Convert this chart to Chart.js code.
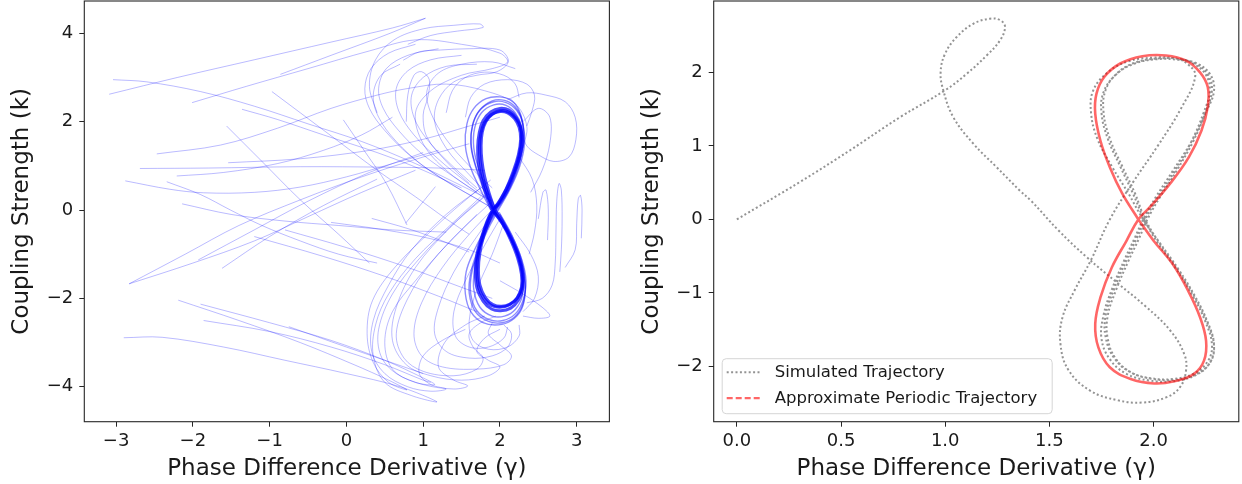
<!DOCTYPE html>
<html>
<head>
<meta charset="utf-8">
<script src="https://cdn.jsdelivr.net/npm/chart.js@4.4.1/dist/chart.umd.min.js"></script>
<style>
  body { margin: 0; background: #fff; }
  .panel { position: absolute; top: 0; width: 621px; height: 484px; }
  #left { left: 0; }
  #right { left: 621px; }
</style>
</head>
<body>
<div class="panel" id="left"><canvas id="chartL" width="621" height="484"></canvas></div>
<div class="panel" id="right"><canvas id="chartR" width="621" height="484"></canvas></div>
<script>
// ---- left panel: tick labels ----
const leftXTicks = [-3, -2, -1, 0, 1, 2, 3];
const leftYTicks = [-4, -2, 0, 2, 4];

// ---- left panel: transients that start far to the left (gamma, k) ----
const farLeftLines = [
  [[-3.09,2.62],[-2.2,3.0],[-1.2,3.4],[-0.2,3.8],[0.6,4.12],[1.03,4.34]],
  [[1.03,4.34],[0.57,4.0],[-0.2,3.5],[-0.86,3.07]],
  [[-3.04,2.95],[-2.6,2.9],[-1.9,2.68],[-1.2,2.35],[-0.5,1.95],[0.2,1.55],[0.9,1.05],[1.5,0.55],[1.9,0.2]],
  [[-2.01,2.43],[-1.3,2.8],[-0.5,3.2],[0.3,3.6],[0.9,3.85],[1.5,3.75],[2.0,3.55],[2.1,3.35],[1.9,3.2],[1.5,3.05],[1.1,2.7],[0.9,2.2],[1.0,1.5],[1.3,0.9],[1.7,0.4]],
  [[-1.36,2.28],[-0.9,2.05],[-0.3,1.7],[0.4,1.3],[1.0,0.9],[1.5,0.5]],
  [[-0.97,2.68],[-0.6,2.2],[-0.1,1.55],[0.4,0.9],[0.9,0.3],[1.3,-0.2],[1.6,-0.55]],
  [[-2.47,1.27],[-1.64,1.47],[-0.9,1.85],[-0.2,2.3],[0.4,2.6],[0.8,2.75],[1.3,2.85],[1.8,2.7],[2.2,2.4],[2.35,1.9],[2.3,1.4]],
  [[-1.56,1.90],[-1.1,1.1],[-0.6,0.23],[-0.1,-0.55],[0.3,-1.2]],
  [[-2.69,0.94],[-1.8,0.95],[-0.6,0.98],[0.5,0.97],[1.2,0.95],[1.8,0.9]],
  [[-1.54,1.07],[-0.6,1.16],[0.3,1.35],[1.0,1.6],[1.6,1.9],[2.0,2.1]],
  [[-2.21,0.77],[-1.6,0.85],[-0.9,1.05],[-0.3,1.35],[0.2,1.7],[0.6,2.1]],
  [[-2.88,0.66],[-2.3,0.47],[-1.86,0.39],[-1.2,0.4],[-0.6,0.52],[0.0,0.75],[0.6,1.05],[1.2,1.35]],
  [[-2.34,0.64],[-1.9,0.35],[-1.51,0.0],[-1.1,-0.35],[-0.6,-0.7],[-0.1,-1.0],[0.4,-1.2]],
  [[-2.83,-1.67],[-2.1,-1.0],[-1.4,-0.35],[-0.6,0.23],[0.2,0.75],[1.0,1.2],[1.6,1.5]],
  [[-2.83,-1.67],[-2.0,-1.2],[-1.2,-0.7],[-0.5,-0.15],[0.2,0.4],[0.9,0.9]],
  [[-1.93,-1.13],[-1.2,-0.45],[-0.5,0.2],[0.3,0.85],[1.0,1.3]],
  [[-1.62,-1.32],[-1.0,-0.6],[-0.3,0.1],[0.4,0.7]],
  [[-2.14,0.14],[-1.5,-0.1],[-0.8,-0.25],[-0.1,-0.35],[0.6,-0.45],[1.3,-0.5]],
  [[-0.04,2.04],[0.25,1.3],[0.52,0.6],[0.79,-0.34]]
];

// ---- left panel: transients from the lower left, turning at the bottom ----
const lowerLines = [
  [[-2.19,-2.04],[-1.4,-2.5],[-0.6,-3.0],[0.1,-3.5],[0.55,-3.85],[0.79,-4.07],[0.55,-3.9],[0.35,-3.45],[0.27,-2.8],[0.34,-2.05],[0.64,-1.28],[1.16,-0.38],[1.5,0.15],[1.88,0.68]],
  [[-1.90,-2.13],[-1.0,-2.55],[-0.2,-2.95],[0.5,-3.4],[1.0,-3.8],[1.15,-3.95],[0.9,-3.9],[0.6,-3.6],[0.5,-3.0],[0.6,-2.3],[0.9,-1.6],[1.3,-0.8],[1.7,-0.1]],
  [[-1.86,-2.50],[-1.0,-2.75],[-0.2,-3.1],[0.5,-3.5],[1.0,-3.85],[1.1,-3.9]],
  [[-2.90,-2.89],[-2.4,-2.88],[-1.6,-3.1],[-0.8,-3.4],[0.0,-3.7],[0.7,-4.0],[1.18,-4.34],[0.85,-4.2],[0.5,-3.9],[0.35,-3.3],[0.38,-2.6],[0.55,-1.9],[0.9,-1.1],[1.35,-0.35],[1.75,0.3]],
  [[-0.75,-2.64],[0.0,-3.1],[0.5,-3.4],[1.0,-3.7]]
];

// ---- left panel: loops that swing below the attractor ----
const bottomLoops = [
  [[1.85,0.4],[1.4,-0.3],[0.95,-1.1],[0.6,-1.9],[0.42,-2.7],[0.45,-3.3],[0.65,-3.7],[1.0,-3.95],[1.4,-4.05],[1.58,-3.98],[1.4,-3.85],[1.2,-3.55],[1.28,-3.0],[1.55,-2.6],[1.8,-2.4]],
  [[1.9,0.2],[1.5,-0.45],[1.1,-1.2],[0.8,-2.0],[0.65,-2.8],[0.75,-3.35],[1.0,-3.65],[1.4,-3.75],[1.7,-3.6],[1.78,-3.35],[1.65,-3.1],[1.6,-2.8],[1.75,-2.55],[1.95,-2.4]],
  [[1.95,0.1],[1.6,-0.55],[1.25,-1.3],[0.98,-2.1],[0.88,-2.8],[0.98,-3.3],[1.25,-3.55],[1.7,-3.6],[2.05,-3.5],[2.15,-3.3],[2.0,-3.05],[1.85,-2.8],[1.9,-2.55]],
  [[1.95,0.0],[1.7,-0.6],[1.4,-1.4],[1.2,-2.2],[1.15,-2.8],[1.3,-3.2],[1.6,-3.35],[1.9,-3.3],[2.1,-3.1],[2.15,-2.8],[2.05,-2.6]],
  [[1.75,0.5],[1.3,-0.1],[0.85,-0.9],[0.55,-1.7],[0.35,-2.5],[0.33,-3.2],[0.5,-3.7],[0.8,-4.0],[1.1,-4.1],[1.3,-4.05],[1.1,-3.95],[0.95,-3.7],[1.0,-3.3],[1.25,-2.95],[1.55,-2.7]],
  [[2.0,-0.2],[1.8,-0.8],[1.55,-1.6],[1.4,-2.3],[1.42,-2.85],[1.6,-3.1],[1.85,-3.1],[2.05,-2.9],[2.1,-2.65]],
  [[1.8,0.3],[1.35,-0.4],[0.9,-1.3],[0.65,-2.2],[0.6,-2.95],[0.78,-3.5],[1.1,-3.75],[1.5,-3.85],[1.85,-3.75],[2.0,-3.55],[1.85,-3.4],[1.7,-3.2],[1.8,-2.9],[2.0,-2.7]],
  [[2.05,-0.3],[1.9,-1.0],[1.7,-1.8],[1.6,-2.5],[1.65,-2.95],[1.85,-3.15],[2.1,-3.1],[2.25,-2.85],[2.25,-2.6]]
];

// ---- left panel: arcs above and left of the attractor ----
const upperArcs = [
  [[0.9,3.75],[0.55,3.55],[0.32,3.2],[0.24,2.75],[0.3,2.3],[0.5,1.8],[0.85,1.2],[1.3,0.65],[1.7,0.25],[1.93,0.0]],
  [[1.2,3.65],[0.8,3.5],[0.52,3.2],[0.42,2.75],[0.48,2.3],[0.68,1.8],[1.0,1.25],[1.4,0.75],[1.78,0.3]],
  [[1.5,3.5],[1.1,3.4],[0.8,3.15],[0.65,2.75],[0.68,2.25],[0.88,1.7],[1.2,1.15],[1.55,0.65],[1.85,0.25]],
  [[0.78,2.0],[0.8,2.6],[0.88,3.05],[0.98,3.13],[1.08,2.95],[1.06,2.55],[1.0,2.15],[1.05,1.65],[1.3,1.1],[1.6,0.6]],
  [[0.74,3.39],[0.95,3.58],[1.22,3.62],[1.6,3.65],[2.0,3.62],[2.11,3.36],[1.96,3.13],[1.7,3.05],[1.4,2.9],[1.2,2.5],[1.15,2.0],[1.3,1.4],[1.6,0.8],[1.85,0.35]],
  [[0.4,2.2],[0.3,2.8],[0.38,3.4],[0.62,3.85],[1.0,4.1],[1.4,4.18],[1.74,4.21],[1.78,4.13],[1.45,4.05],[1.1,3.95],[0.8,3.75]],
  [[1.55,2.1],[1.62,2.55],[1.8,2.85],[2.1,2.95],[2.35,2.85],[2.45,2.6],[2.42,2.25],[2.35,1.9]],
  [[1.3,2.2],[1.38,2.7],[1.55,3.0],[1.8,3.12],[2.05,3.05],[2.2,2.85],[2.25,2.55]],
  [[0.7,3.3],[0.45,3.05],[0.35,2.6],[0.42,2.1],[0.65,1.55],[1.0,1.0],[1.45,0.5],[1.85,0.1]],
  [[1.7,3.3],[1.3,3.25],[1.0,3.0],[0.85,2.6],[0.88,2.1],[1.05,1.6],[1.35,1.05],[1.7,0.5]],
  [[2.2,3.2],[1.9,3.35],[1.5,3.3],[1.2,3.1],[1.05,2.7],[1.1,2.2],[1.3,1.6],[1.6,1.0],[1.9,0.5]]
];

// ---- left panel: loops to the right of the attractor and short middle strokes ----
const rightLoops = [
  [[2.1,2.5],[2.35,2.65],[2.6,2.6],[2.85,2.45],[2.98,2.1],[2.99,1.6],[2.9,1.2],[2.7,1.1],[2.5,1.25],[2.35,1.45],[2.3,1.7]],
  [[2.35,-2.1],[2.55,-2.0],[2.68,-1.7],[2.72,-1.2],[2.73,-0.5],[2.74,0.2],[2.77,0.6],[2.8,0.45],[2.81,-0.2],[2.8,-0.9],[2.78,-1.4]],
  [[2.85,-1.3],[2.98,-0.9],[3.0,-0.3],[3.02,0.25],[3.05,0.33],[3.07,0.0],[3.06,-0.64]],
  [[2.5,-0.2],[2.56,0.4],[2.6,0.45],[2.63,0.0],[2.62,-0.68]],
  [[2.0,-1.6],[2.3,-1.9],[2.55,-2.2],[2.65,-2.4],[2.5,-2.45],[2.3,-2.4]],
  [[2.2,-0.5],[2.4,-1.0],[2.5,-1.5],[2.45,-2.0],[2.3,-2.3]],
  [[2.25,1.2],[2.42,0.7],[2.48,0.1],[2.45,-0.5],[2.38,-1.0]],
  [[2.3,2.0],[2.5,2.3],[2.65,2.1],[2.65,1.5],[2.55,0.9],[2.4,0.4]],
  [[-0.8,-0.45],[0.0,-0.85],[0.8,-1.3],[1.5,-1.75],[1.9,-2.0]],
  [[-1.2,-0.6],[-0.3,-1.05],[0.5,-1.5],[1.2,-1.95],[1.7,-2.3]],
  [[-0.2,-0.28],[0.5,-0.45],[1.1,-0.65],[1.6,-0.9],[2.0,-1.2]],
  [[0.33,-0.19],[0.8,-0.42],[1.22,-0.68],[1.6,-0.95]],
  [[0.77,-0.3],[1.16,0.53]]
];

// ---- left panel: band of loops around the figure eight ----
const bandLoops = [
  [[1.88,0.0],[1.75,0.45],[1.62,0.95],[1.55,1.45],[1.57,1.95],[1.66,2.3],[1.82,2.52],[2.0,2.56],[2.15,2.48],[2.25,2.25],[2.3,1.9],[2.3,1.45],[2.22,0.95],[2.1,0.45],[1.96,0.05],[1.82,-0.4],[1.67,-0.9],[1.56,-1.4],[1.55,-1.9],[1.62,-2.3],[1.78,-2.55],[1.98,-2.6],[2.15,-2.5],[2.28,-2.25],[2.33,-1.85],[2.3,-1.35],[2.2,-0.85],[2.05,-0.35],[1.9,0.05]],
  [[1.9,0.05],[1.78,0.5],[1.68,1.0],[1.62,1.5],[1.65,1.95],[1.75,2.28],[1.92,2.45],[2.08,2.43],[2.22,2.25],[2.3,1.95],[2.32,1.5],[2.26,1.0],[2.14,0.5],[1.98,0.0],[1.84,-0.45],[1.72,-0.95],[1.63,-1.45],[1.62,-1.9],[1.7,-2.28],[1.86,-2.48],[2.04,-2.5],[2.2,-2.35],[2.3,-2.05],[2.34,-1.6],[2.28,-1.1],[2.16,-0.6],[2.0,-0.1]],
  [[1.95,0.0],[1.85,0.4],[1.73,0.9],[1.66,1.4],[1.67,1.85],[1.76,2.2],[1.92,2.38],[2.08,2.37],[2.2,2.2],[2.28,1.9],[2.3,1.5],[2.24,1.05],[2.12,0.55],[1.98,0.1],[1.85,-0.35],[1.74,-0.85],[1.67,-1.35],[1.66,-1.8],[1.74,-2.2],[1.9,-2.4],[2.06,-2.4],[2.2,-2.25],[2.29,-1.95],[2.3,-1.5],[2.24,-1.0],[2.12,-0.5],[1.97,-0.05]],
  [[1.92,0.0],[1.82,0.42],[1.7,0.92],[1.63,1.42],[1.64,1.9],[1.73,2.25],[1.9,2.47],[2.06,2.48],[2.2,2.33],[2.29,2.02],[2.31,1.55],[2.25,1.02],[2.13,0.5],[1.97,0.02],[1.83,-0.42],[1.71,-0.92],[1.62,-1.42],[1.6,-1.88],[1.68,-2.3],[1.85,-2.52],[2.03,-2.55],[2.19,-2.42],[2.3,-2.12],[2.33,-1.65],[2.28,-1.12],[2.15,-0.55],[1.99,-0.05]]
];

// ---- left panel: the settled figure eight ----
const coreLoops = [
  [[1.91,0],[1.84,0.35],[1.78,0.72],[1.745,1.08],[1.735,1.43],[1.75,1.72],[1.80,1.98],[1.89,2.16],[2.0,2.23],[2.1,2.2],[2.19,2.07],[2.25,1.87],[2.27,1.6],[2.24,1.25],[2.17,0.86],[2.08,0.47],[1.98,0.17],[1.91,0],[1.84,-0.25],[1.77,-0.6],[1.72,-0.98],[1.70,-1.36],[1.72,-1.72],[1.79,-2.0],[1.89,-2.16],[2.0,-2.2],[2.12,-2.15],[2.22,-2.0],[2.28,-1.75],[2.28,-1.45],[2.23,-1.08],[2.14,-0.68],[2.03,-0.3],[1.91,0]],
  [[1.93,0.02],[1.86,0.38],[1.80,0.76],[1.765,1.12],[1.755,1.46],[1.77,1.76],[1.82,2.01],[1.91,2.18],[2.02,2.25],[2.12,2.21],[2.21,2.07],[2.27,1.86],[2.29,1.58],[2.26,1.22],[2.19,0.83],[2.10,0.45],[2.0,0.16],[1.93,0.02],[1.86,-0.24],[1.79,-0.58],[1.74,-0.96],[1.72,-1.34],[1.74,-1.70],[1.81,-1.98],[1.91,-2.14],[2.02,-2.18],[2.13,-2.13],[2.23,-1.98],[2.29,-1.73],[2.29,-1.43],[2.24,-1.06],[2.15,-0.66],[2.04,-0.28],[1.93,0.02]],
  [[1.90,-0.01],[1.82,0.34],[1.76,0.7],[1.72,1.06],[1.71,1.42],[1.73,1.74],[1.78,2.02],[1.88,2.22],[2.0,2.3],[2.12,2.26],[2.21,2.1],[2.27,1.88],[2.28,1.6],[2.25,1.24],[2.18,0.85],[2.08,0.46],[1.98,0.15],[1.90,-0.01],[1.83,-0.26],[1.76,-0.62],[1.70,-1.0],[1.68,-1.38],[1.70,-1.76],[1.78,-2.06],[1.89,-2.24],[2.01,-2.28],[2.14,-2.22],[2.24,-2.04],[2.3,-1.76],[2.3,-1.44],[2.25,-1.06],[2.15,-0.66],[2.03,-0.3],[1.90,-0.01]]
];

// ---- right panel ----
const rightXTicks = [0, 0.5, 1.0, 1.5, 2.0];
const rightYTicks = [-2, -1, 0, 1, 2];

const grayTransient = [
  [0,0],[0.303,0.51],[0.543,0.94],[0.783,1.39],[0.999,1.755],[1.103,1.98],[1.199,2.23],[1.263,2.435],[1.287,2.62],[1.263,2.71],
  [1.215,2.73],[1.135,2.66],[1.055,2.48],[0.999,2.25],[0.978,2.0],[0.991,1.755],[1.039,1.39],[1.135,1.03],[1.247,0.71],[1.359,0.39],
  [1.41,0.26],[1.544,-0.15],[1.678,-0.51],[1.831,-0.875],[1.965,-1.19],[2.08,-1.51],[2.147,-1.83],[2.156,-2.05],[2.127,-2.28],[2.06,-2.42],
  [1.946,-2.49],[1.83,-2.46],[1.697,-2.33],[1.592,-2.05],[1.553,-1.69],[1.563,-1.33],[1.62,-0.97],[1.70,-0.55],[1.79,0.0],[1.90,0.5],
  [2.02,1.0],[2.13,1.5],[2.20,1.95],[2.16,2.12]
];
const grayLoop1 = [
  [2.10,2.19],[2.00,2.20],[1.88,2.15],[1.78,2.00],[1.71,1.75],[1.70,1.45],[1.73,1.10],[1.80,0.72],[1.88,0.35],[1.95,0.0],
  [2.03,-0.32],[2.12,-0.68],[2.20,-1.05],[2.26,-1.40],[2.29,-1.70],[2.27,-1.95],[2.20,-2.12],[2.09,-2.20],[1.98,-2.19],[1.87,-2.10],
  [1.79,-1.90],[1.75,-1.62],[1.76,-1.30],[1.80,-0.95],[1.86,-0.55],[1.91,-0.25],[1.95,0.0],[2.01,0.30],[2.09,0.65],[2.18,1.05],
  [2.25,1.45],[2.29,1.75],[2.27,1.98],[2.20,2.13]
];
const grayLoop2 = [
  [2.12,2.17],[2.02,2.18],[1.91,2.12],[1.82,1.97],[1.76,1.73],[1.75,1.45],[1.78,1.10],[1.84,0.72],[1.90,0.36],[1.955,0.0],
  [2.02,-0.32],[2.11,-0.68],[2.19,-1.05],[2.25,-1.40],[2.28,-1.70],[2.26,-1.93],[2.19,-2.10],[2.09,-2.17],[1.99,-2.16],[1.89,-2.08],
  [1.81,-1.88],[1.77,-1.60],[1.77,-1.30],[1.81,-0.95],[1.87,-0.55],[1.92,-0.25],[1.96,0.0],[2.02,0.30],[2.10,0.65],[2.18,1.05],
  [2.24,1.45],[2.27,1.75],[2.25,1.97],[2.19,2.12]
];
const grayLoop3 = [
  [2.13,2.18],[2.03,2.19],[1.92,2.14],[1.83,2.0],[1.77,1.76],[1.76,1.46],[1.79,1.1],[1.85,0.72],[1.91,0.36],[1.96,0.0],
  [2.03,-0.33],[2.12,-0.7],[2.2,-1.07],[2.26,-1.42],[2.29,-1.72],[2.27,-1.95],[2.2,-2.11],[2.1,-2.18],[2.0,-2.17],[1.9,-2.09],
  [1.82,-1.9],[1.78,-1.62],[1.78,-1.31],[1.82,-0.96],[1.88,-0.56],[1.93,-0.26],[1.97,0.0],[2.03,0.3],[2.11,0.66],[2.19,1.06],
  [2.25,1.46],[2.28,1.76],[2.26,1.97],[2.2,2.12],[2.13,2.18]
];
const redLoop = [
  [1.927,0],[1.85,0.35],[1.79,0.71],[1.745,1.07],[1.72,1.44],[1.726,1.71],[1.764,1.94],[1.84,2.12],[1.946,2.22],[2.06,2.23],
  [2.156,2.16],[2.223,2.0],[2.26,1.8],[2.26,1.53],[2.23,1.21],[2.17,0.85],[2.08,0.49],[1.98,0.16],[1.927,0],[1.87,-0.29],
  [1.80,-0.65],[1.745,-1.06],[1.72,-1.42],[1.735,-1.74],[1.79,-2.01],[1.89,-2.17],[2.003,-2.23],[2.10,-2.20],[2.194,-2.10],[2.242,-1.92],
  [2.252,-1.65],[2.223,-1.33],[2.166,-0.97],[2.09,-0.60],[2.0,-0.29],[1.927,0]
];

const FONT = 'DejaVu Sans';
const TXT = '#1a1a1a';

function pts(path) {
  return path.map(p => ({x: p[0], y: p[1]}));
}

function line(path, color, width, order, tension) {
  return {
    data: pts(path),
    showLine: true,
    borderColor: color,
    borderWidth: width,
    pointRadius: 0,
    pointHoverRadius: 0,
    tension: tension,
    order: order
  };
}

function minus(v, digits) {
  const s = digits ? Math.abs(v).toFixed(digits) : String(Math.abs(v));
  return v < 0 ? '\u2212' + s : s;
}

// black frame round the plot area (matplotlib style box)
const framePlugin = {
  id: 'frame',
  afterDatasetsDraw(chart) {
    const {ctx, chartArea: a} = chart;
    ctx.save();
    ctx.strokeStyle = '#262626';
    ctx.lineWidth = 1.1;
    ctx.strokeRect(a.left, a.top, a.right - a.left, a.bottom - a.top);
    ctx.restore();
  }
};

// legend box in the lower left of the right panel
const legendBox = {
  id: 'legendBox',
  afterDraw(chart) {
    const {ctx, chartArea: a} = chart;
    const w = 330, h = 55;
    const x = a.left + 8, y = a.bottom - 8.5 - h;
    ctx.save();
    ctx.beginPath();
    ctx.roundRect(x + 0.5, y + 0.5, w, h, 4);
    ctx.fillStyle = 'rgba(255,255,255,0.8)';
    ctx.fill();
    ctx.strokeStyle = '#d5d5d5';
    ctx.lineWidth = 1;
    ctx.stroke();
    chart.data.datasets.forEach((ds, i) => {
      const ry = y + 14 + i * 26;
      ctx.beginPath();
      ctx.setLineDash(ds.legendDash);
      ctx.strokeStyle = ds.borderColor;
      ctx.lineWidth = ds.legendWidth;
      ctx.moveTo(x + 5, ry);
      ctx.lineTo(x + 38, ry);
      ctx.stroke();
      ctx.setLineDash([]);
      ctx.fillStyle = TXT;
      ctx.font = '16.5px "' + FONT + '"';
      ctx.textBaseline = 'middle';
      ctx.fillText(ds.label, x + 53, ry + 1);
    });
    ctx.restore();
  }
};

function axes(xMin, xMax, yMin, yMax, xTicks, yTicks, xFmt, yWidth, yTitlePad) {
  const tickFont = {family: FONT, size: 18};
  const titleFont = {family: FONT, size: 23};
  return {
    x: {
      type: 'linear', min: xMin, max: xMax,
      afterBuildTicks: s => { s.ticks = xTicks.map(v => ({value: v})); },
      afterFit: s => { s.height = 62.3; s.paddingLeft = 0; s.paddingRight = 0; },
      ticks: {font: tickFont, color: TXT, padding: 3.5, maxRotation: 0, autoSkip: false, callback: v => xFmt(v)},
      grid: {drawOnChartArea: false, drawTicks: true, tickLength: 5, color: '#262626'},
      border: {display: false},
      title: {display: true, text: 'Phase Difference Derivative (\u03b3)', font: titleFont, color: TXT, padding: {top: 0, bottom: 1.5}}
    },
    y: {
      type: 'linear', min: yMin, max: yMax,
      afterBuildTicks: s => { s.ticks = yTicks.map(v => ({value: v})); },
      afterFit: s => { s.width = yWidth; s.paddingTop = 0; s.paddingBottom = 0; },
      ticks: {font: tickFont, color: TXT, padding: 6, autoSkip: false, callback: v => minus(v)},
      grid: {drawOnChartArea: false, drawTicks: true, tickLength: 5, color: '#262626'},
      border: {display: false},
      title: {display: true, text: 'Coupling Strength (k)', font: titleFont, color: TXT, padding: {top: yTitlePad, bottom: 0}}
    }
  };
}

const commonOpts = {
  responsive: false,
  animation: false,
  events: [],
  plugins: {legend: {display: false}, tooltip: {enabled: false}}
};

// ---------- left chart ----------
const thinBlue = 'rgba(0,0,255,0.27)';
const leftSets = [];
coreLoops.forEach(p => leftSets.push(line(p, 'rgba(0,0,255,0.7)', 3, 0, 0.4)));
bandLoops.forEach(p => leftSets.push(line(p, 'rgba(0,0,255,0.45)', 1.4, 1, 0.4)));
[farLeftLines, lowerLines, bottomLoops, upperArcs, rightLoops].forEach(group =>
  group.forEach(p => leftSets.push(line(p, thinBlue, 1, 2, 0.35))));

new Chart(document.getElementById('chartL'), {
  type: 'scatter',
  data: {datasets: leftSets},
  options: Object.assign({}, commonOpts, {
    layout: {padding: {left: 0, right: 11.6, top: 1, bottom: 0}},
    scales: axes(-3.414, 3.426, -4.79, 4.73, leftXTicks, leftYTicks, v => minus(v), 84.3, 8)
  }),
  plugins: [framePlugin]
});

// ---------- right chart ----------
const graySet = line([...grayTransient, ...grayLoop1, ...grayLoop2, ...grayLoop3], 'rgba(128,128,128,0.85)', 2, 1, 0.4);
graySet.label = 'Simulated Trajectory';
graySet.borderDash = [2, 2.4];
graySet.legendDash = [2, 2.4];
graySet.legendWidth = 2;

const redSet = line(redLoop, 'rgba(255,0,0,0.6)', 2.6, 0, 0.4);
redSet.label = 'Approximate Periodic Trajectory';
redSet.legendDash = [6, 3];
redSet.legendWidth = 2.2;

new Chart(document.getElementById('chartR'), {
  type: 'scatter',
  data: {datasets: [graySet, redSet]},
  options: Object.assign({}, commonOpts, {
    layout: {padding: {left: 0, right: 3.2, top: 1, bottom: 0}},
    scales: axes(-0.111, 2.409, -2.75, 2.97, rightXTicks, rightYTicks, v => minus(v, 1), 92.7, 17)
  }),
  plugins: [framePlugin, legendBox]
});
</script>
</body>
</html>
